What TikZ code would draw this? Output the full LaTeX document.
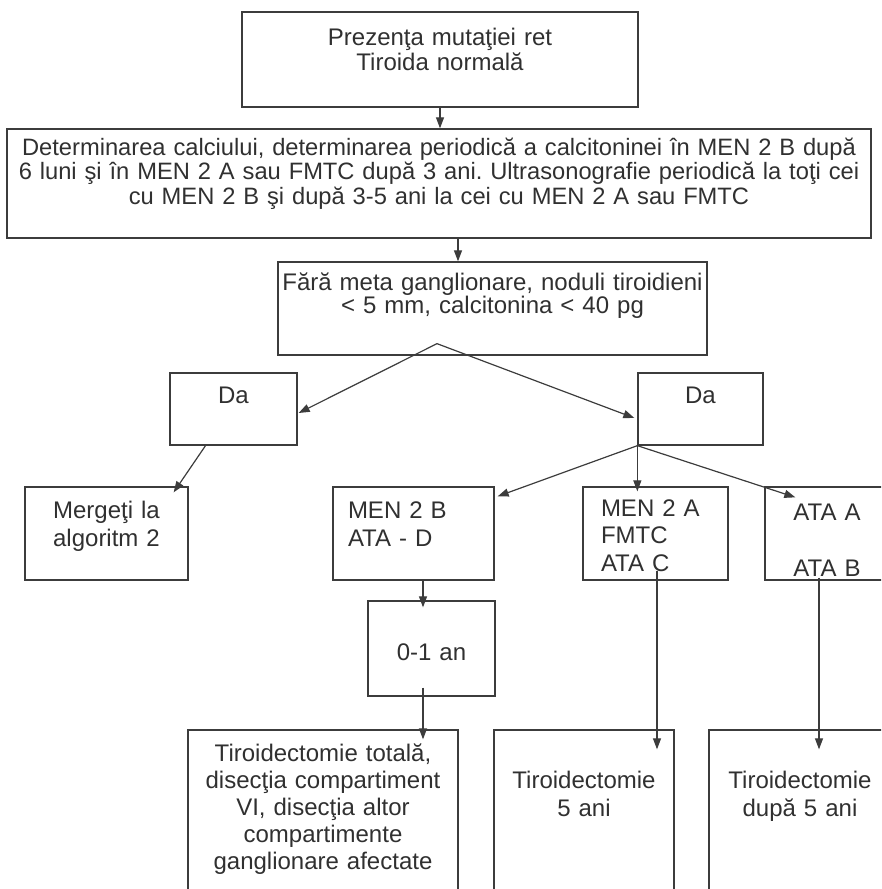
\documentclass[tikz,border=0pt]{standalone}
\usepackage{fontspec}
\setmainfont{Liberation Sans}
\usetikzlibrary{arrows.meta,calc}
\definecolor{linegray}{HTML}{3C3C3C}
\definecolor{textgray}{HTML}{303030}
\tikzset{
  box/.style={draw=linegray, line width=1.3pt, inner sep=0pt, text=textgray, align=center},
  arr/.style={draw=linegray, line width=1.2pt, -{Triangle[length=11pt,width=8pt]}}
}
\frenchspacing
\begin{document}
\begin{tikzpicture}[x=1pt, y=-1pt, font=\fontsize{24}{25}\selectfont]
  \useasboundingbox (0,0) rectangle (881,889);
  \clip (0,0) rectangle (881,889);
  % boxes
  \node[box, text width=396pt, text height=33pt, text depth=62pt] (ret) at (440,59.5) {Prezenţa mutaţiei ret\\Tiroida normală};
  \node[box, text width=864pt, text height=26pt, text depth=83pt, font=\fontsize{23.7}{24.5}\selectfont] (calc) at (439,183.5)
    {Determinarea calciului, determinarea periodică a calcitoninei în MEN 2 B după\\6 luni şi în MEN 2 A sau FMTC după 3 ani. Ultrasonografie periodică la toţi cei\\cu MEN 2 B şi după 3-5 ani la cei cu MEN 2 A sau FMTC};
  \node[box, text width=429pt, text height=28pt, text depth=65pt, font=\fontsize{24}{23}\selectfont] (cond) at (492.5,308.5)
    {Fără meta ganglionare, noduli tiroidieni\\< 5 mm, calcitonina < 40 pg};
  \node[box, text width=127pt, text height=30pt, text depth=42pt] (dal) at (233.5,409) {Da};
  \node[box, text width=125pt, text height=30pt, text depth=42pt] (dar) at (700.5,409) {Da};
  \node[box, text width=163pt, text height=31pt, text depth=62pt, font=\fontsize{24}{28}\selectfont] (alg) at (106.5,533.5) {Mergeţi la\\algoritm 2};
  \node[box, align=left, inner xsep=15pt, text width=131pt, text height=31pt, text depth=62pt, font=\fontsize{24}{28}\selectfont] (menb) at (413.5,533.5) {MEN 2 B\\ATA - D};
  \node[box, align=left, inner xsep=18pt, text width=109pt, text height=29pt, text depth=64pt, font=\fontsize{24}{27.5}\selectfont] (mena) at (655.5,533.5) {MEN 2 A\\FMTC\\ATA C};
  \node[box, text width=124pt, text height=33pt, text depth=60pt, font=\fontsize{24}{28}\selectfont] (ata) at (827,533.5) {ATA A\\\mbox{}\\ATA B};
  \node[box, text width=127pt, text height=59pt, text depth=36pt] (zero) at (431.5,648.5) {0-1 an};
  \node[box, text width=270pt, text height=31pt, text depth=149pt, font=\fontsize{24}{27}\selectfont] (tott) at (323,820)
    {Tiroidectomie totală,\\disecţia compartiment\\VI, disecţia altor\\compartimente\\ganglionare afectate};
  \node[box, text width=180pt, text height=58pt, text depth=122pt, font=\fontsize{24}{28}\selectfont] (tir5) at (584,820) {Tiroidectomie\\5 ani};
  \node[box, text width=182pt, text height=58pt, text depth=122pt, font=\fontsize{24}{28}\selectfont] (tirl) at (800,820) {Tiroidectomie\\după 5 ani};
  % connectors
  \draw[arr] (ret.south) -- (ret.south |- calc.north);
  \draw[arr] ($(calc.south)+(19,0)$) -- ($(calc.south |- cond.north)+(19,0)$);
  \coordinate (split) at ($(cond.south)+(-55.5,-12)$);
  \draw[arr] (split) -- ($(dal.east)+(1,4)$);
  \draw[arr] (split) -- ($(dar.west)+(-3,9)$);
  \draw[arr] ($(dal.south)+(-28,0)$) -- ($(alg.north east)+(-15,6)$);
  \draw[arr] (dar.south west) -- ($(menb.north east)+(3,10)$);
  \draw[arr] (dar.south west) -- ($(dar.south west |- mena.north)+(0,5)$);
  \draw[arr] (dar.south west) -- ($(ata.north west)+(31,11)$);
  \draw[arr] ($(menb.south)+(9.5,0)$) -- ($(zero.north)+(-8.5,7)$);
  \draw[arr] ($(zero.south)+(-8.5,-9)$) -- ($(tott.north -| zero.south)+(-8.5,10)$);
  \draw[arr] ($(mena.south)+(1.5,-10)$) -- ($(tir5.north -| mena.south)+(1.5,20)$);
  \draw[arr] ($(ata.south)+(-8,-3)$) -- ($(tirl.north -| ata.south)+(-8,20)$);
\end{tikzpicture}
\end{document}
